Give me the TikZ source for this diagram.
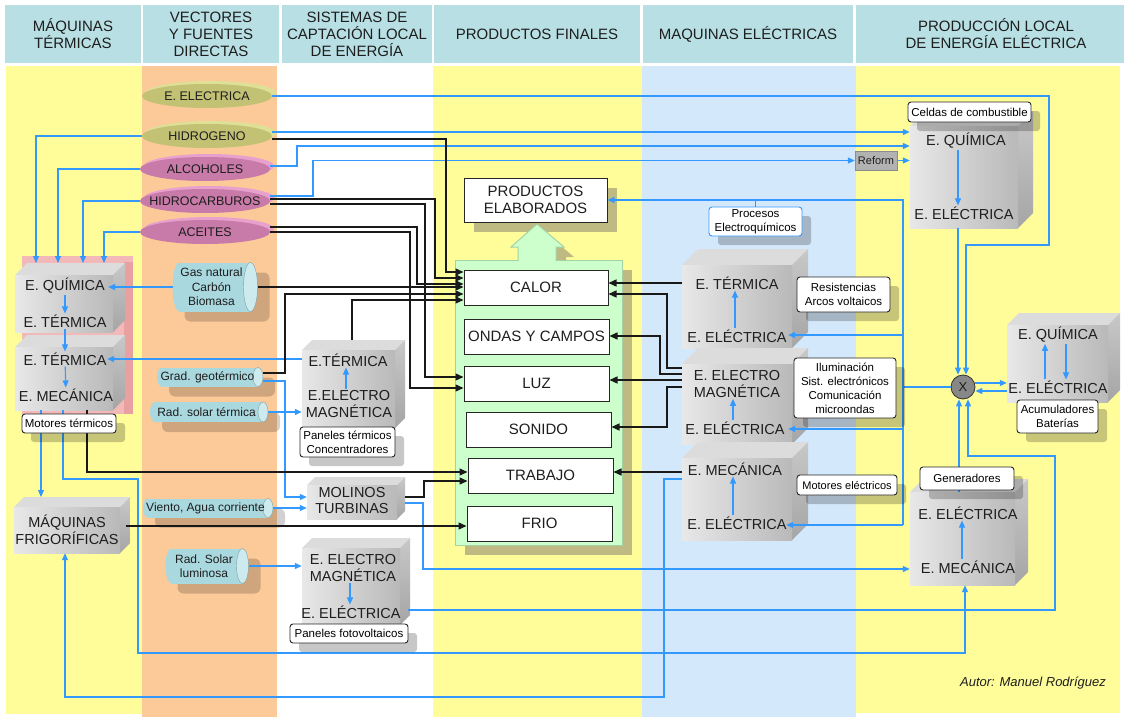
\documentclass[tikz,border=0pt]{standalone}
\usepackage{fontspec}
\setmainfont{Liberation Sans}
\usetikzlibrary{arrows.meta,fit,shadows}
\definecolor{hdr}{RGB}{184,223,227}
\definecolor{ylw}{RGB}{255,253,153}
\definecolor{org}{RGB}{252,202,152}
\definecolor{lblue}{RGB}{212,232,252}
\definecolor{arrb}{RGB}{51,153,255}
\definecolor{grn}{RGB}{204,255,204}
\definecolor{grnb}{RGB}{165,210,165}
\definecolor{olv}{RGB}{195,193,116}
\definecolor{olvl}{RGB}{222,224,150}
\definecolor{pnk}{RGB}{200,122,168}
\definecolor{pnkl}{RGB}{232,160,205}
\definecolor{cylc}{RGB}{170,216,223}
\definecolor{cyll}{RGB}{205,235,239}
\definecolor{shd}{RGB}{190,186,130}
\definecolor{pinkbk}{RGB}{243,184,184}
\definecolor{pinkbd}{RGB}{232,160,160}
\definecolor{cubeL}{RGB}{232,232,232}
\definecolor{cubeR}{RGB}{185,185,185}
\definecolor{cubeT}{RGB}{220,220,220}
\definecolor{cubeSa}{RGB}{200,200,200}
\definecolor{cubeSb}{RGB}{165,165,165}
\definecolor{xgray}{RGB}{135,135,135}
\definecolor{txt}{RGB}{30,30,30}
\newcommand{\setfs}[2]{\fontsize{#1}{#2}\selectfont}
% cube: name, x1, y1, x2, y2, depth
\newcommand{\mycube}[6]{%
  \fill[cubeT] (#2,#3) -- ({#2+#6},{#3-#6}) -- ({#4+#6},{#3-#6}) -- (#4,#3) -- cycle;
  \shade[top color=cubeSa,bottom color=cubeSb] (#4,#3) -- ({#4+#6},{#3-#6}) -- ({#4+#6},{#5-#6}) -- (#4,#5) -- cycle;
  \shade[left color=cubeL,right color=cubeR] (#2,#3) rectangle (#4,#5);
  \coordinate (#1nw) at (#2,#3);
  \coordinate (#1se) at (#4,#5);
  \coordinate (#1top) at ({(#2+#4)/2},{#3-#6});
  \node[fit=(#1nw)(#1se),inner sep=0pt] (#1) {};
}
% cylinder: name, cx, cy, half length, radius, end half-width, text
\newcommand{\mycyl}[7]{%
  \fill[black,opacity=.18,rounded corners=6pt] ({#2-#4+12},{#3-#5+10}) rectangle ({#2+#4+12},{#3+#5+10});
  \fill[cylc] ({#2-#4+#6},{#3-#5}) rectangle ({#2+#4-#6},{#3+#5});
  \fill[cylc] ({#2-#4+#6},#3) ellipse [x radius=#6pt,y radius=#5pt];
  \filldraw[fill=cyll,draw=cylc!75!black,line width=.4pt] ({#2+#4-#6},#3) ellipse [x radius=#6pt,y radius=#5pt];
  \node[cyltxt] (#1) at ({#2-#6/2},#3) {#7};
  \coordinate (#1e) at ({#2+#4},#3);
  \coordinate (#1w) at ({#2-#4},#3);
}
% vector ellipse: name, cx, cy, colour, light colour, text
\newcommand{\myvect}[6]{%
  \fill[#5] ({#2+4},{#3-3}) ellipse [x radius=65pt,y radius=12pt];
  \fill[#4] (#2,#3) ellipse [x radius=65pt,y radius=12pt];
  \node[vtxt] (#1) at (#2,#3) {#6};
}
\begin{document}
\begin{tikzpicture}[x=1pt,y=-1pt,
  barrow/.style={draw=arrb,line width=1.1pt,-{Triangle[length=7pt,width=6pt]}},
  bline/.style={draw=arrb,line width=1.1pt},
  karrow/.style={draw=black!90,line width=1.4pt,-{Triangle[length=8pt,width=7pt]}},
  hdrbox/.style={fill=hdr,inner sep=0pt,align=center,text=txt,font=\setfs{15}{17}},
  ctext/.style={inner sep=1pt,align=center,text=txt,font=\setfs{14.5}{17}},
  pbox/.style={draw=black!85,fill=white,line width=1pt,inner sep=0pt,align=center,text=txt,font=\setfs{15}{17}},
  lbl/.style={draw=black!85,fill=white,line width=.9pt,rounded corners=3pt,inner sep=0pt,align=center,text=black,font=\setfs{11.5}{14},drop shadow={shadow xshift=9pt,shadow yshift=-9pt,fill=black,opacity=.22}},
  cyltxt/.style={inner sep=0pt,align=center,text=txt,font=\setfs{12}{14.5}},
  vtxt/.style={inner sep=0pt,minimum width=130pt,minimum height=22pt,text=txt,font=\setfs{12.5}{14}},
]
\useasboundingbox (0,0) rectangle (1124,717);
\fill[white] (0,0) rectangle (1124,717);
% headers
\node[hdrbox,minimum width=136pt,minimum height=58pt] (h1) at (73,34) {MÁQUINAS\\TÉRMICAS};
\node[hdrbox,minimum width=136pt,minimum height=58pt] (h2) at (211,34) {VECTORES\\Y FUENTES\\DIRECTAS};
\node[hdrbox,minimum width=150pt,minimum height=58pt] (h3) at (357,34) {SISTEMAS DE\\CAPTACIÓN LOCAL\\DE ENERGÍA};
\node[hdrbox,minimum width=206pt,minimum height=58pt] (h4) at (537,34) {PRODUCTOS FINALES};
\node[hdrbox,minimum width=210pt,minimum height=58pt] (h5) at (748,34) {MAQUINAS ELÉCTRICAS};
\node[hdrbox,minimum width=280pt,minimum height=58pt] (h6) at (996,34) {PRODUCCIÓN LOCAL\\DE ENERGÍA ELÉCTRICA};
% columns
\fill[ylw] (6,66) rectangle (142,714);
\fill[org] (142,66) rectangle (277,717);
\fill[ylw] (433,66) rectangle (642,717);
\fill[lblue] (642,66) rectangle (856,717);
\fill[ylw] (856,66) rectangle (1120,713);

% ---- column 1
\fill[pinkbk] (22,256) rectangle (133,414);
\fill[pinkbd] (124,262) rectangle (133,414);
\mycube{cA}{15}{275}{113}{332}{12}
\node[ctext] (c1a) at (65,286) {E. QUÍMICA};
\node[ctext] (c1b) at (65,321) {E. TÉRMICA};
\mycube{cB}{15}{347}{113}{410}{12}
\node[ctext] (c2a) at (65,359) {E. TÉRMICA};
\node[ctext] (c2b) at (66,395) {E. MECÁNICA};
\mycube{frig}{14}{507}{120}{553}{10}
\node[ctext] (frigt) at (67,530) {MÁQUINAS\\FRIGORÍFICAS};

% ---- column 2
\myvect{eelec}{207}{96}{olv}{olvl}{E. ELECTRICA}
\myvect{hidro}{207}{136}{olv}{olvl}{HIDROGENO}
\myvect{alco}{205}{169}{pnk}{pnkl}{ALCOHOLES}
\myvect{hcarb}{205}{201}{pnk}{pnkl}{HIDROCARBUROS}
\myvect{aceit}{205}{232}{pnk}{pnkl}{ACEITES}
\mycyl{gas}{215}{287}{42.5}{24.5}{7}{Gas natural\\Carbón\\Biomasa}
\mycyl{geo}{210}{377}{53}{9.5}{5}{Grad. geotérmico}
\mycyl{solt}{209}{412}{59}{10}{5}{Rad. solar térmica}
\mycyl{vien}{208}{508}{65}{9.5}{5}{Viento, Agua corriente}
\mycyl{sollu}{207}{566}{41.5}{17.5}{6}{Rad. Solar\\luminosa}

% ---- column 3
\mycube{c3T}{302}{350}{395}{428}{10}
\node[ctext] (c3a) at (348,360) {E.TÉRMICA};
\node[ctext] (c3b) at (349,404) {E.ELECTRO\\MAGNÉTICA};
\mycube{mol}{307}{485}{397}{519}{8}
\node[ctext,font=\setfs{14.5}{16}] (molt) at (352,501) {MOLINOS\\TURBINAS};
\mycube{cPV}{302}{548}{400}{625}{10}
\node[ctext] (c5a) at (353,568) {E. ELECTRO\\MAGNÉTICA};
\node[ctext] (c5b) at (351,612) {E. ELÉCTRICA};

% ---- column 4
\fill[shd] (474,188) rectangle (617,232);
\node[pbox,minimum width=143pt,minimum height=44pt] (prodel) at (535.5,200) {PRODUCTOS\\ELABORADOS};
\fill[shd] (465,270) rectangle (632,555);
\fill[shd] (528,270) -- (528,257) -- (521,257) -- (547,234) -- (574,257) -- (566,257) -- (566,270) -- cycle;
\node[draw=grnb,fill=grn,line width=1pt,minimum width=167pt,minimum height=285pt,inner sep=0pt] (prodf) at (538.5,402.5) {};
\filldraw[fill=grn,draw=grnb,line width=1pt] (518,261) -- (518,247) -- (511,247) -- (537,224) -- (564,247) -- (556,247) -- (556,261);
\fill[grn] (519,258) rectangle (555,262);
\node[pbox,minimum width=144pt,minimum height=35pt] (calor) at (536,287.5) {CALOR};
\node[pbox,minimum width=145pt,minimum height=35pt] (ondas) at (536.5,336.5) {ONDAS Y CAMPOS};
\node[pbox,minimum width=145pt,minimum height=35pt] (luz) at (536.5,383.5) {LUZ};
\node[pbox,minimum width=145pt,minimum height=35pt] (sonido) at (538.5,429.5) {SONIDO};
\node[pbox,minimum width=145pt,minimum height=35pt] (trabajo) at (540.5,475.5) {TRABAJO};
\node[pbox,minimum width=145pt,minimum height=35pt] (frio) at (539.5,523.5) {FRIO};

% ---- column 5
\mycube{q1}{682}{265}{792}{348}{16}
\node[ctext] (r1a) at (737,283) {E. TÉRMICA};
\node[ctext] (r1b) at (737,336) {E. ELÉCTRICA};
\mycube{q2}{682}{364}{792}{444}{16}
\node[ctext] (r2a) at (737,384) {E. ELECTRO\\MAGNÉTICA};
\node[ctext] (r2b) at (735,428) {E. ELÉCTRICA};
\mycube{q3}{682}{458}{792}{540}{16}
\node[ctext] (r3a) at (735,469) {E. MECÁNICA};
\node[ctext] (r3b) at (737,523) {E. ELÉCTRICA};

% ---- column 6
\mycube{fc}{910}{126}{1018}{228}{15}
\node[ctext] (fca) at (966,141) {E. QUÍMICA};
\node[ctext] (fcb) at (964,213) {E. ELÉCTRICA};
\mycube{acu}{1007}{325}{1108}{402}{12}
\node[ctext] (acua) at (1058,335) {E. QUÍMICA};
\node[ctext] (acub) at (1058,387) {E. ELÉCTRICA};
\mycube{gen}{910}{492}{1015}{585}{13}
\node[ctext] (gena) at (968,513) {E. ELÉCTRICA};
\node[ctext] (genb) at (968,567) {E. MECÁNICA};
\node[fill=black!30,draw=black!45,minimum width=42pt,minimum height=19pt,inner sep=0pt,font=\setfs{11}{13},text=txt] (reform) at (876,160.5) {Reform};
\node[circle,draw=black!80,fill=xgray,line width=.8pt,minimum size=24pt,inner sep=0pt,font=\setfs{13}{15},text=txt] (xnode) at (963,387) {X};

% ---- internal arrows
\draw[barrow] (c1a) -- (c1b);
\draw[barrow] (c1b) -- (c2a);
\draw[barrow] (c2a) -- (c2b);
\draw[barrow] (c3b.north -| 346,0) -- (c3a.south -| 346,0);
\draw[barrow] (c5a.south -| 350,0) -- (c5b.north -| 350,0);
\draw[barrow] (r1b.north -| 735,0) -- (r1a.south -| 735,0);
\draw[barrow] (r2b.north -| 733,0) -- (r2a.south -| 733,0);
\draw[barrow] (r3b.north -| 733,0) -- (r3a.south -| 733,0);
\draw[barrow] (fca.south -| 958,0) -- (fcb.north -| 958,0);
\draw[barrow] (acub.north -| 1045,0) -- (acua.south -| 1045,0);
\draw[barrow] (acua.south -| 1066,0) -- (acub.north -| 1066,0);
\draw[barrow] (genb.north -| 962,0) -- (gena.south -| 962,0);

% ---- blue connectors
\draw[barrow] (eelec.east) -| (1049,245) -| ([xshift=3pt]xnode.north);
\draw[barrow] (fc.south -| 958,0) -- ([xshift=-5pt]xnode.north);
\draw[barrow] (hidro.east |- 0,132) -- (fc.west |- 0,132);
\draw[barrow] (hidro.west) -| (cAtop -| 36,0);
\draw[barrow] (alco.west) -| (cAtop -| 58,0);
\draw[barrow] (hcarb.west) -| (cAtop -| 83,0);
\draw[barrow] (aceit.west) -| (cAtop -| 104,0);
\draw[barrow] (alco.east |- 0,166) -| (297,146) -- (fc.west |- 0,146);
\draw[barrow] (hcarb.east |- 0,196) -| (313,160.5) -- (reform.west);
\draw[barrow] (reform.east) -- (fc.west |- reform.east);
\draw[barrow,shorten >=-5pt] (gasw) -- (cA.east |- gasw);
\draw[barrow] (geoe |- 0,381) -| (285,497) -- (mol.west |- 0,497);
\draw[barrow] (viene) -- (mol.west |- viene);
\draw[barrow] (solte) -- (c3T.west |- solte);
\draw[barrow] (sollue) -- (cPV.west |- sollue);
\draw[barrow,shorten >=-6pt] (c3T.west |- c2a) -- (cB.east |- c2a);
\draw[barrow] (cB.south -| 41,0) -- (frigtop -| 41,0);
\draw[barrow] (cB.south -| 63,0) |- (138,479) |- (965,653) -- (gen.south -| 965,0);
\draw[barrow] (q3.west |- 0,479) -| (664,697) -| (frig.south -| 65,0);
\draw[barrow,shorten <=8pt] (cPV.east |- 0,610) -| (1055,456) -| ([xshift=5pt]xnode.south);
\draw[barrow] (gen.north -| 959,0) -- ([xshift=-4pt]xnode.south);
\draw[barrow,shorten <=8pt] (mol.east |- 0,503) -| (423,569) -- (gen.west |- 0,569);
\draw[barrow] (xnode.west) -| (903,200) -- (prodel.east);
\draw[bline] (903,380) -- (903,525);
\draw[barrow,shorten >=-4pt] (903,335) -- (q1.east |- 0,335);
\draw[barrow,shorten >=-4pt] (903,429) -- (q2.east |- 0,429);
\draw[barrow,shorten >=-6pt] (903,525) -- (q3.east |- 0,525);
\draw[barrow] (xnode.east |- 0,383) -- (acu.west |- 0,383);
\draw[barrow] (acu.west |- 0,391) -- (xnode.east |- 0,391);

% ---- black connectors
\draw[karrow] (hidro.east |- 0,139) -| (446,272) -- (calor.west |- 0,272);
\draw[karrow] (hcarb.east |- 0,199) -| (435,278) -- (calor.west |- 0,278);
\draw[karrow] (hcarb.east |- 0,204) -| (425,377) -- (luz.west |- 0,377);
\draw[karrow] (aceit.east |- 0,227) -| (417,284) -- (calor.west |- 0,284);
\draw[karrow] (aceit.east |- 0,232) -| (410,388) -- (luz.west |- 0,388);
\draw[karrow] (gase) -- (calor.west |- gase);
\draw[karrow] (geoe |- 0,373) -| (285,294) -- (calor.west |- 0,294);
\draw[karrow] (c3Ttop -| 352,0) |- (calor.west |- 0,300);
\draw[karrow] (cB.south -| 87,0) |- (trabajo.west |- 0,472);
\draw[karrow,shorten <=8pt] (mol.east |- 0,497) -| (424,481) -- (trabajo.west |- 0,481);
\draw[karrow,shorten <=6pt] (frig.east |- 0,526) -- (frio.west |- 0,526);
\draw[karrow] (q1.west |- 0,283) -- (calor.east |- 0,283);
\draw[karrow] (q2.west |- 0,368) -| (667,294) -- (calor.east |- 0,294);
\draw[karrow] (q2.west |- 0,374) -| (660,336) -- (ondas.east |- 0,336);
\draw[karrow] (q2.west |- 0,380) -- (luz.east |- 0,380);
\draw[karrow] (q2.west |- 0,387) -| (667,427) -- (sonido.east |- 0,427);
\draw[karrow] (q3.west |- 0,472) -- (trabajo.east |- 0,472);

% ---- labels
\node[lbl,minimum width=94pt,minimum height=19pt] (lmotter) at (69,423.5) {Motores térmicos};
\node[lbl,minimum width=95pt,minimum height=30pt] (lpanth) at (347.5,442) {Paneles térmicos\\Concentradores};
\node[lbl,minimum width=118pt,minimum height=19pt] (lpanfo) at (349,633.5) {Paneles fotovoltaicos};
\node[lbl,draw=arrb,minimum width=93pt,minimum height=29pt] (lproc) at (755.5,221.5) {Procesos\\Electroquímicos};
\draw[bline] (lproc.north |- 0,200) -- (lproc.north);
\node[lbl,minimum width=93pt,minimum height=35pt] (lres) at (843.5,294.5) {Resistencias\\Arcos voltaicos};
\node[lbl,minimum width=102pt,minimum height=60pt] (lilum) at (845,388) {Iluminación\\Sist. electrónicos\\Comunicación\\microondas};
\node[lbl,minimum width=100pt,minimum height=20pt,font=\setfs{11}{13}] (lmotel) at (847,485) {Motores eléctricos};
\node[lbl,minimum width=123pt,minimum height=20pt] (lceldas) at (969.5,112) {Celdas de combustible};
\node[lbl,minimum width=81pt,minimum height=33pt] (lacum) at (1057.5,416.5) {Acumuladores\\Baterías};
\node[lbl,minimum width=94pt,minimum height=23pt] (lgen) at (967,478.5) {Generadores};
\node[inner sep=0pt,font=\setfs{13}{15}\itshape,text=txt] (autor) at (1033,683) {Autor: Manuel Rodríguez};
\end{tikzpicture}
\end{document}
